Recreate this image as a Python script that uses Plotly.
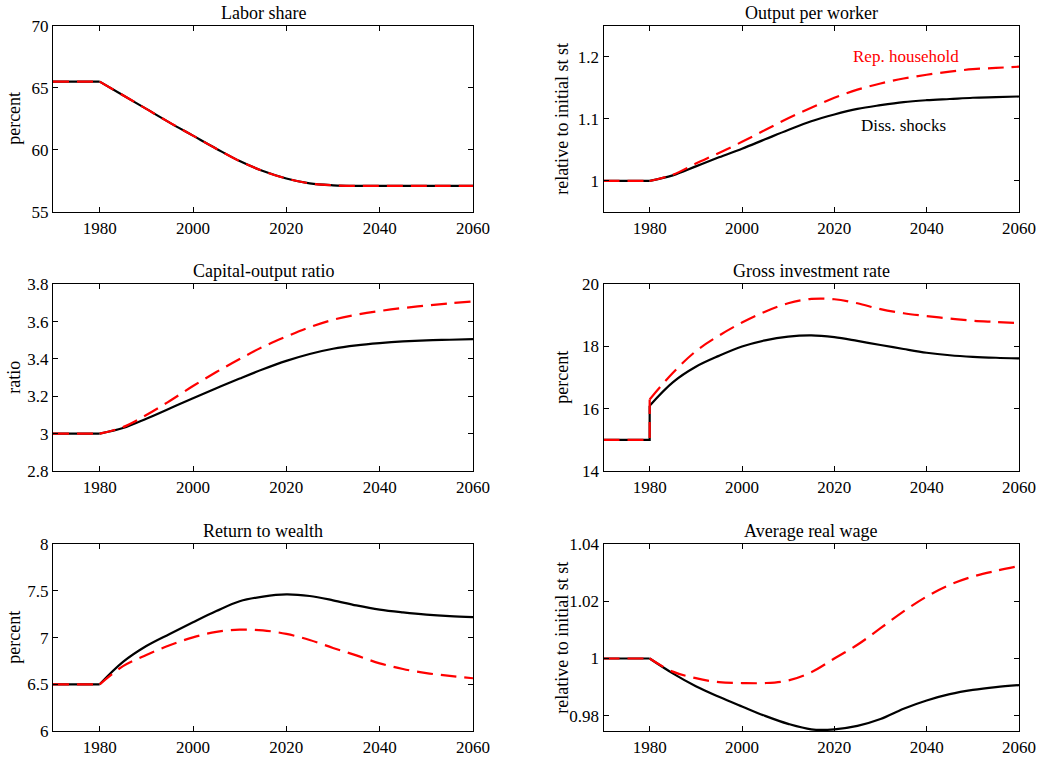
import plotly.graph_objects as go

# ---------------- data ----------------
years = [1970, 1975, 1980, 1985, 1990, 1995, 2000, 2005, 2010, 2015,
         2020, 2025, 2030, 2035, 2040, 2045, 2050, 2055, 2060]
years_inv = [1970, 1975, 1980, 1980, 1985, 1990, 1995, 2000, 2005, 2010, 2015,
             2020, 2025, 2030, 2035, 2040, 2045, 2050, 2055, 2060]

labor_diss = [65.5, 65.5, 65.5, 64.4, 63.3, 62.2, 61.15, 60.1, 59.1, 58.3,
              57.7, 57.3, 57.15, 57.1, 57.1, 57.1, 57.1, 57.1, 57.1]
labor_rep = [65.5, 65.5, 65.5, 64.4, 63.3, 62.2, 61.15, 60.1, 59.1, 58.3,
             57.7, 57.3, 57.15, 57.1, 57.1, 57.1, 57.1, 57.1, 57.1]

output_diss = [1, 1, 1, 1.009, 1.0235, 1.038, 1.052, 1.067, 1.082, 1.096,
               1.107, 1.116, 1.122, 1.127, 1.130, 1.132, 1.134, 1.135, 1.136]
output_rep = [1, 1, 1, 1.010, 1.028, 1.045, 1.063, 1.082, 1.101, 1.118,
              1.134, 1.147, 1.157, 1.165, 1.171, 1.176, 1.180, 1.182, 1.184]

ky_diss = [3, 3, 3, 3.03, 3.08, 3.135, 3.19, 3.243, 3.295, 3.345,
           3.39, 3.427, 3.455, 3.473, 3.485, 3.494, 3.50, 3.503, 3.506]
ky_rep = [3, 3, 3, 3.035, 3.10, 3.175, 3.255, 3.33, 3.40, 3.465,
          3.52, 3.57, 3.61, 3.637, 3.657, 3.673, 3.686, 3.698, 3.708]

inv_diss = [15, 15, 15, 16.1, 16.85, 17.35, 17.7, 18.0, 18.2, 18.32, 18.36,
            18.3, 18.18, 18.05, 17.92, 17.8, 17.72, 17.67, 17.64, 17.62]
inv_rep = [15, 15, 15, 16.3, 17.15, 17.85, 18.35, 18.77, 19.12, 19.39, 19.53,
           19.52, 19.39, 19.2, 19.07, 18.98, 18.9, 18.83, 18.79, 18.75]

ret_diss = [6.5, 6.5, 6.5, 6.74, 6.91, 7.04, 7.165, 7.285, 7.39, 7.44,
            7.463, 7.446, 7.40, 7.345, 7.30, 7.27, 7.246, 7.23, 7.22]
ret_rep = [6.5, 6.5, 6.5, 6.695, 6.815, 6.918, 7.003, 7.062, 7.085, 7.078,
           7.04, 6.975, 6.89, 6.81, 6.725, 6.664, 6.62, 6.59, 6.565]

wage_diss = [1, 1, 1, 0.9948, 0.9903, 0.9866, 0.9832, 0.9799, 0.9771, 0.9752,
             0.9752, 0.9764, 0.9788, 0.9824, 0.9853, 0.9875, 0.9890, 0.9900, 0.9907]
wage_rep = [1, 1, 1, 0.9954, 0.9931, 0.9917, 0.9914, 0.9914, 0.9923, 0.9952,
            1.0000, 1.0048, 1.0106, 1.0165, 1.0217, 1.0258, 1.0287, 1.0307, 1.0324]

titles = ["Labor share", "Output per worker", "Capital-output ratio",
          "Gross investment rate", "Return to wealth", "Average real wage"]
ylabels = ["percent", "relative to initial st st", "ratio",
           "percent", "percent", "relative to initial st st"]
yranges = [[55, 70], [0.95, 1.25], [2.8, 3.8], [14, 20], [6, 8], [0.9746, 1.04]]
yticks = [[55, 60, 65, 70], [1, 1.1, 1.2], [2.8, 3, 3.2, 3.4, 3.6, 3.8],
          [14, 16, 18, 20], [6, 6.5, 7, 7.5, 8], [0.98, 1, 1.02, 1.04]]
xticks = [1980, 2000, 2020, 2040, 2060]
label_rep = "Rep. household"
label_diss = "Diss. shocks"

# ---------------- layout geometry ----------------
W, H = 1049, 759
FONT = "Liberation Serif"


def px(x):
    return x / W


def py(y):
    return 1 - y / H


xdoms = [[px(53), px(473)], [px(603.5), px(1019)]]
row_px = [(25.7, 212), (284.3, 471), (544.3, 731)]
ydoms = [[py(b), py(t)] for t, b in row_px]
ylab_x = [14, 562]

series = [
    (years, labor_diss, labor_rep, 3),
    (years, output_diss, output_rep, 3),
    (years, ky_diss, ky_rep, 3),
    (years_inv, inv_diss, inv_rep, 4),
    (years, ret_diss, ret_rep, 3),
    (years, wage_diss, wage_rep, 3),
]

fig = go.Figure()
annotations = []
layout = {}
for i, (xs, d, r, k) in enumerate(series):
    row, col = divmod(i, 2)
    n = i + 1
    xa = "x" if n == 1 else f"x{n}"
    ya = "y" if n == 1 else f"y{n}"
    # split at 1980: flat (and jump) part linear, transition part smooth
    for vals, color, dash in ((d, "black", "solid"), (r, "red", "16px,8px")):
        fig.add_trace(go.Scatter(
            x=xs[:k], y=vals[:k], xaxis=xa, yaxis=ya, mode="lines",
            line=dict(color=color, width=2.2, dash=dash),
            showlegend=False, hoverinfo="skip"))
        fig.add_trace(go.Scatter(
            x=xs[k - 1:], y=vals[k - 1:], xaxis=xa, yaxis=ya, mode="lines",
            line=dict(color=color, width=2.2, dash=dash, shape="spline", smoothing=1.0),
            showlegend=False, hoverinfo="skip"))
    axcommon = dict(showline=True, linecolor="black", linewidth=1.2, mirror="ticks",
                    ticks="inside", ticklen=5, tickcolor="black", showgrid=False,
                    zeroline=False, automargin=False,
                    tickfont=dict(family=FONT, size=17, color="black"))
    layout["xaxis" if n == 1 else f"xaxis{n}"] = dict(
        domain=xdoms[col], range=[1970, 2060], tickvals=xticks,
        anchor=ya, **axcommon)
    layout["yaxis" if n == 1 else f"yaxis{n}"] = dict(
        domain=ydoms[row], range=yranges[i], tickvals=yticks[i],
        anchor=xa, **axcommon)
    annotations.append(dict(text=titles[i], xref="paper", yref="paper",
                            x=sum(xdoms[col]) / 2, y=ydoms[row][1],
                            xanchor="center", yanchor="bottom", yshift=1,
                            showarrow=False,
                            font=dict(family=FONT, size=18, color="black")))
    annotations.append(dict(text=ylabels[i], xref="paper", yref="paper",
                            x=px(ylab_x[col]), y=sum(ydoms[row]) / 2,
                            xanchor="center", yanchor="middle", textangle=-90,
                            showarrow=False,
                            font=dict(family=FONT, size=18, color="black")))

annotations.append(dict(text=label_rep, xref="x2", yref="y2", x=2035.5, y=1.2,
                        showarrow=False, xanchor="center", yanchor="middle",
                        font=dict(family=FONT, size=17, color="red")))
annotations.append(dict(text=label_diss, xref="x2", yref="y2", x=2035, y=1.0895,
                        showarrow=False, xanchor="center", yanchor="middle",
                        font=dict(family=FONT, size=17, color="black")))

fig.update_layout(**layout)
fig.update_layout(template="none", width=W, height=H,
                  margin=dict(l=0, r=0, t=0, b=0, autoexpand=False),
                  paper_bgcolor="white", plot_bgcolor="white",
                  annotations=annotations, showlegend=False)
fig.write_html("out.html", config={"displayModeBar": False},
               post_script="document.body.style.margin='0';document.body.style.overflow='hidden';")
